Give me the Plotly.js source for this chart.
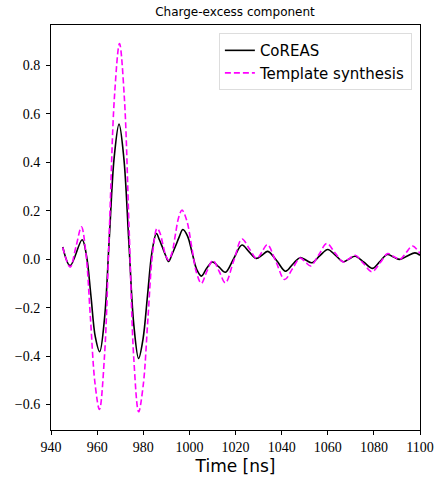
<!DOCTYPE html>
<html>
<head>
<meta charset="utf-8">
<script src="https://cdn.plot.ly/plotly-3.0.1.min.js"></script>
<style>html,body{margin:0;padding:0;background:#fff;}#chart{width:436px;height:478px;}</style>
</head>
<body>
<div id="chart"></div>
<script>
const coreasTime = [945.1,948.3,953.5,955.4,957.3,959.2,961.1,963.2,965.3,967.4,969.5,971.6,973.75,975.9,978.0,979.9,981.85,983.8,985.7,987.0,988.35,989.7,991.0,992.5,994.1,995.6,997.2,999.2,1001.2,1003.2,1005.2,1007.5,1010.0,1012.8,1015.6,1019.2,1022.8,1025.9,1029.0,1031.6,1034.0,1038.0,1041.7,1044.9,1048.0,1050.5,1053.1,1056.5,1060.0,1063.4,1066.8,1069.3,1071.9,1075.7,1079.5,1082.6,1085.8,1088.5,1091.3,1094.5,1097.8,1100.0];
const coreasValue = [0.050,-0.027,0.080,0.013,-0.15,-0.32,-0.382,-0.245,0.09,0.42,0.557,0.415,0.07,-0.27,-0.41,-0.33,-0.15,0.03,0.106,0.08,0.048,0.015,-0.01,0.02,0.056,0.092,0.122,0.095,0.026,-0.043,-0.07,-0.038,-0.012,-0.032,-0.054,0.002,0.058,0.03,0.003,0.017,0.032,-0.008,-0.05,-0.02,0.006,-0.004,-0.015,0.013,0.040,0.015,-0.011,0.001,0.012,-0.013,-0.038,-0.01,0.019,0.009,-0.001,0.013,0.026,0.016];

const templateTime = [945.1,948.3,950.8,953.2,955.15,957.1,959.05,961.0,963.2,965.35,967.5,969.7,971.8,973.85,975.9,978.0,980.0,982.0,984.0,986.0,987.25,988.5,989.75,991.0,992.45,993.9,995.35,996.8,998.9,1001.0,1003.1,1005.2,1007.6,1010.2,1012.9,1015.6,1019.2,1022.8,1026.0,1029.2,1031.5,1033.8,1037.6,1041.3,1044.7,1048.0,1050.3,1052.6,1056.1,1059.6,1063.2,1066.8,1069.3,1071.9,1075.5,1079.1,1082.8,1086.0,1088.6,1091.3,1094.0,1096.7,1100.0];
const templateValue = [0.048,-0.033,0.05,0.133,0.023,-0.243,-0.51,-0.62,-0.399,0.135,0.668,0.889,0.667,0.13,-0.41,-0.63,-0.519,-0.25,0.019,0.127,0.108,0.0615,0.015,-0.004,0.026,0.099,0.172,0.202,0.158,0.051,-0.056,-0.10,-0.05,-0.005,-0.05,-0.098,-0.008,0.083,0.043,0.003,0.03,0.06,-0.012,-0.084,-0.04,0.004,-0.012,-0.028,0.018,0.065,0.025,-0.012,0.002,0.016,-0.018,-0.052,-0.014,0.023,0.011,-0.001,0.027,0.054,0.023];

const seriesNames = ["CoREAS", "Template synthesis"];
const xTicks = [940,960,980,1000,1020,1040,1060,1080,1100];
const yTicks = [-0.6,-0.4,-0.2,0.0,0.2,0.4,0.6,0.8];

const serif = "Liberation Serif, serif";
const sans = "DejaVu Sans, sans-serif";

const traces = [
  {x: coreasTime, y: coreasValue, name: seriesNames[0], type: 'scatter', mode: 'lines',
   line: {color: '#000000', width: 1.6, shape: 'spline', smoothing: 1.0}},
  {x: templateTime, y: templateValue, name: seriesNames[1], type: 'scatter', mode: 'lines',
   line: {color: '#ff00ff', width: 1.6, dash: '6px,3px', shape: 'spline', smoothing: 1.0}}
];

const layout = {
  width: 436, height: 478,
  margin: {l: 50.5, r: 16, t: 25, b: 48},
  paper_bgcolor: '#ffffff', plot_bgcolor: '#ffffff',
  showlegend: true,
  title: {text: 'Charge-excess component', font: {family: sans, size: 12, color: '#000'},
          x: 0.539, xanchor: 'center', y: 0.975, yanchor: 'middle'},
  xaxis: {range: [940, 1100], tickvals: xTicks, ticktext: xTicks.map(String),
          ticks: 'outside', ticklen: 4, tickcolor: '#000', showgrid: false, zeroline: false,
          showline: true, linecolor: '#000', linewidth: 1, mirror: true, ticklabelstandoff: 0,
          tickfont: {family: serif, size: 14, color: '#000'},
          title: {text: 'Time [ns]', font: {family: sans, size: 17, color: '#000'}, standoff: 6}},
  yaxis: {range: [-0.705, 0.966], tickvals: yTicks, ticktext: yTicks.map(v => v.toFixed(1).replace('-', '\u2212')),
          ticks: 'outside', ticklen: 4, tickcolor: '#000', showgrid: false, zeroline: false,
          showline: true, linecolor: '#000', linewidth: 1, mirror: true, ticklabelstandoff: 3,
          tickfont: {family: serif, size: 14, color: '#000'}},
  legend: {x: 0.978, y: 0.98, xanchor: 'right', yanchor: 'top',
           bgcolor: 'rgba(255,255,255,0.85)', bordercolor: '#dddddd', borderwidth: 1,
           font: {family: sans, size: 15, color: '#000'}, tracegroupgap: 2}
};

Plotly.newPlot('chart', traces, layout, {staticPlot: true, displayModeBar: false});
</script>
</body>
</html>
